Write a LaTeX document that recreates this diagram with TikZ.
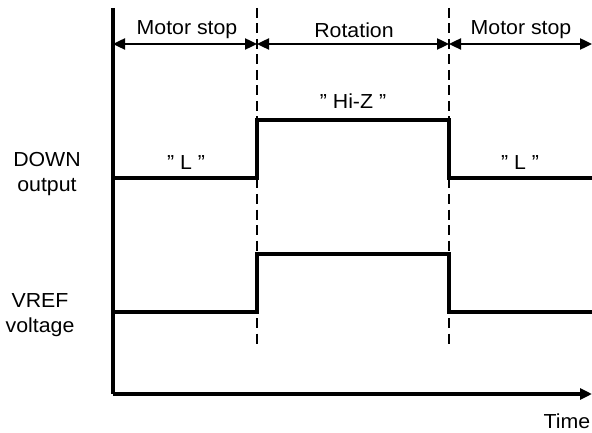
\documentclass[tikz,border=0pt]{standalone}
\usepackage{fontspec}
\setmainfont{Liberation Sans}[FakeStretch=1.05]
\usetikzlibrary{arrows.meta}
\newcommand\dq{\symbol{34}}
\begin{document}
\begin{tikzpicture}[x=1pt,y=-1pt,
  lbl/.style={font=\fontsize{20.3}{25}\selectfont, inner sep=0pt, align=center},
  sig/.style={line width=3.2pt, line join=miter},
  axisline/.style={line width=3.2pt},
  sepline/.style={line width=2.8pt, dash pattern=on 10pt off 5.5pt},
  tipend/.style={-{Triangle[length=12pt,width=11pt]}},
  dtip/.style={{Triangle[length=12pt,width=11pt]}-{Triangle[length=12pt,width=11pt]}},
  ]
\useasboundingbox (0,0) rectangle (592,433);
% axes
\coordinate (top) at (113,8);
\coordinate (origin) at (113,394);
\coordinate (tend) at (592,394);
\draw[axisline] (top) -- (origin);
\draw[axisline, tipend] (origin) -- (tend);
% dashed separators
\coordinate (d1t) at (257,8);
\coordinate (d1b) at (257,347);
\coordinate (d2t) at (449,8);
\coordinate (d2b) at (449,347);
\draw[sepline] (d1t) -- (d1b);
\draw[sepline] (d2t) -- (d2b);
% phase arrows
\coordinate (a0) at (113,44);
\coordinate (a1) at (257,44);
\coordinate (a2) at (449,44);
\coordinate (a3) at (592,44);
\draw[line width=2.4pt, dtip] (a0) -- (a1);
\draw[line width=2.4pt, dtip] (a1) -- (a2);
\draw[line width=2.4pt, dtip] (a2) -- (a3);
\node[lbl] (ms1) at (187,30) {Motor stop};
\node[lbl] (rot) at (354,30) {Rotation};
\node[lbl] (ms2) at (521,30) {Motor stop};
% DOWN output
\draw[sig] (113,178) -- (257,178) -- (257,120) -- (449,120) -- (449,178) -- (592,178);
\node[lbl] (hiz) at (353,101) {\dq\ Hi-Z \dq};
\node[lbl] (l1) at (186,163) {\dq\ L \dq};
\node[lbl] (l2) at (520,163) {\dq\ L \dq};
\node[lbl] (down) at (47,174) {DOWN\\output};
% VREF
\draw[sig] (113,312) -- (257,312) -- (257,254) -- (449,254) -- (449,312) -- (592,312);
\node[lbl] (vref) at (40,315) {VREF\\voltage};
% time
\node[lbl] (time) at (567,421) {Time};
\end{tikzpicture}
\end{document}
